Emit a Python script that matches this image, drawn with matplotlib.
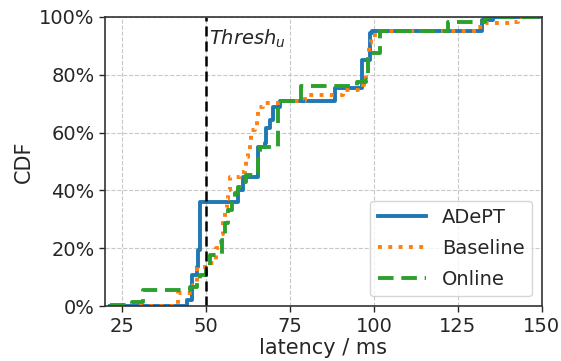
import matplotlib
matplotlib.use("Agg")
import matplotlib.pyplot as plt
from matplotlib.ticker import PercentFormatter

# ADePT
adept_x = [21.5, 44.3, 45.8, 47.3, 47.8, 48.3, 59.6, 61.1, 65.6, 67.5, 68.0, 69.0, 70.0, 72.0, 88.5, 96.5, 99.0, 99.6, 132.3, 135.5, 150]
adept_y = [0.0, 2.0, 10.7, 13.6, 19.4, 36.0, 40.1, 44.5, 55.0, 56.3, 61.5, 64.4, 69.0, 71.0, 75.3, 85.0, 94.3, 95.0, 99.0, 100.0, 100.0]

# Baseline
base_x = [30.0, 41.7, 46.3, 47.3, 50.5, 53.0, 54.5, 55.2, 55.7, 56.2, 56.7, 57.2, 60.1, 61.6, 62.1, 62.6, 63.1, 63.6, 64.6, 65.1, 65.6, 67.0, 72.0, 79.4, 90.8, 95.2, 97.2, 97.7, 98.2, 98.7, 99.2, 102.2, 125.4, 130.4, 133.0, 141.2, 143.0, 150]
base_y = [0.0, 4.5, 7.3, 13.6, 15.0, 20.0, 25.0, 30.0, 34.0, 37.0, 40.0, 44.5, 46.5, 48.0, 51.5, 54.0, 57.4, 61.0, 62.3, 65.3, 69.0, 70.3, 71.0, 73.0, 74.7, 76.5, 78.0, 81.7, 87.4, 90.9, 93.8, 95.0, 95.2, 96.6, 97.8, 98.4, 100.0, 100.0]

# Online
online_x = [21.5, 28.2, 31.4, 45.3, 47.5, 48.3, 50.2, 51.2, 53.7, 54.7, 55.7, 56.7, 57.7, 58.7, 59.6, 60.6, 62.1, 64.6, 65.6, 66.1, 71.5, 78.4, 95.0, 97.7, 98.3, 101.7, 122.0, 133.0, 150]
online_y = [0.3, 1.5, 5.5, 6.7, 8.0, 10.7, 13.6, 17.6, 18.2, 22.8, 28.6, 33.2, 37.8, 39.0, 41.3, 43.0, 45.3, 46.0, 51.7, 55.0, 71.0, 76.0, 77.6, 78.2, 87.4, 95.0, 98.4, 100.0, 100.0]

threshold = 50
x_ticks = [25, 50, 75, 100, 125, 150]
y_ticks = [0, 20, 40, 60, 80, 100]

plt.rcParams['font.family'] = ['DejaVu Sans']
text_color = '#262626'
plt.rcParams['text.color'] = text_color
plt.rcParams['axes.labelcolor'] = text_color
plt.rcParams['xtick.color'] = text_color
plt.rcParams['ytick.color'] = text_color

fig = plt.figure(figsize=(5.61, 3.61), dpi=100)
ax = fig.add_axes([0.187, 0.152, 0.779, 0.801])

ax.step(adept_x, adept_y, where='post', color='#1f77b4', lw=2.8, label='ADePT')
ax.step(base_x, base_y, where='post', color='#ff7f0e', lw=2.8, ls=':', label='Baseline')
ax.step(online_x, online_y, where='post', color='#2ca02c', lw=2.8, ls=(0, (4, 2)), label='Online')
ax.axvline(threshold, color='black', lw=1.8, ls=(0, (4, 2)))
ax.text(threshold + 1, 92.5, r'$Thresh_u$', fontsize=14, va='center', ha='left')

ax.set_xlim(20, 150)
ax.set_ylim(0, 100)
ax.set_xticks(x_ticks)
ax.set_yticks(y_ticks)
ax.yaxis.set_major_formatter(PercentFormatter(decimals=0))
ax.tick_params(labelsize=14, length=4, width=1)
ax.set_xlabel('latency / ms', fontsize=15, labelpad=2)
ax.set_ylabel('CDF', fontsize=15)
ax.grid(True, ls='--', color='#c8c8c8', lw=0.8)
for s in ax.spines.values():
    s.set_color('#333333')
    s.set_linewidth(1.2)

ax.legend(loc='lower right', fontsize=14, handlelength=2.5, framealpha=0.8,
          edgecolor='#cccccc', labelspacing=0.6)

fig.savefig('out.png', dpi=100)
